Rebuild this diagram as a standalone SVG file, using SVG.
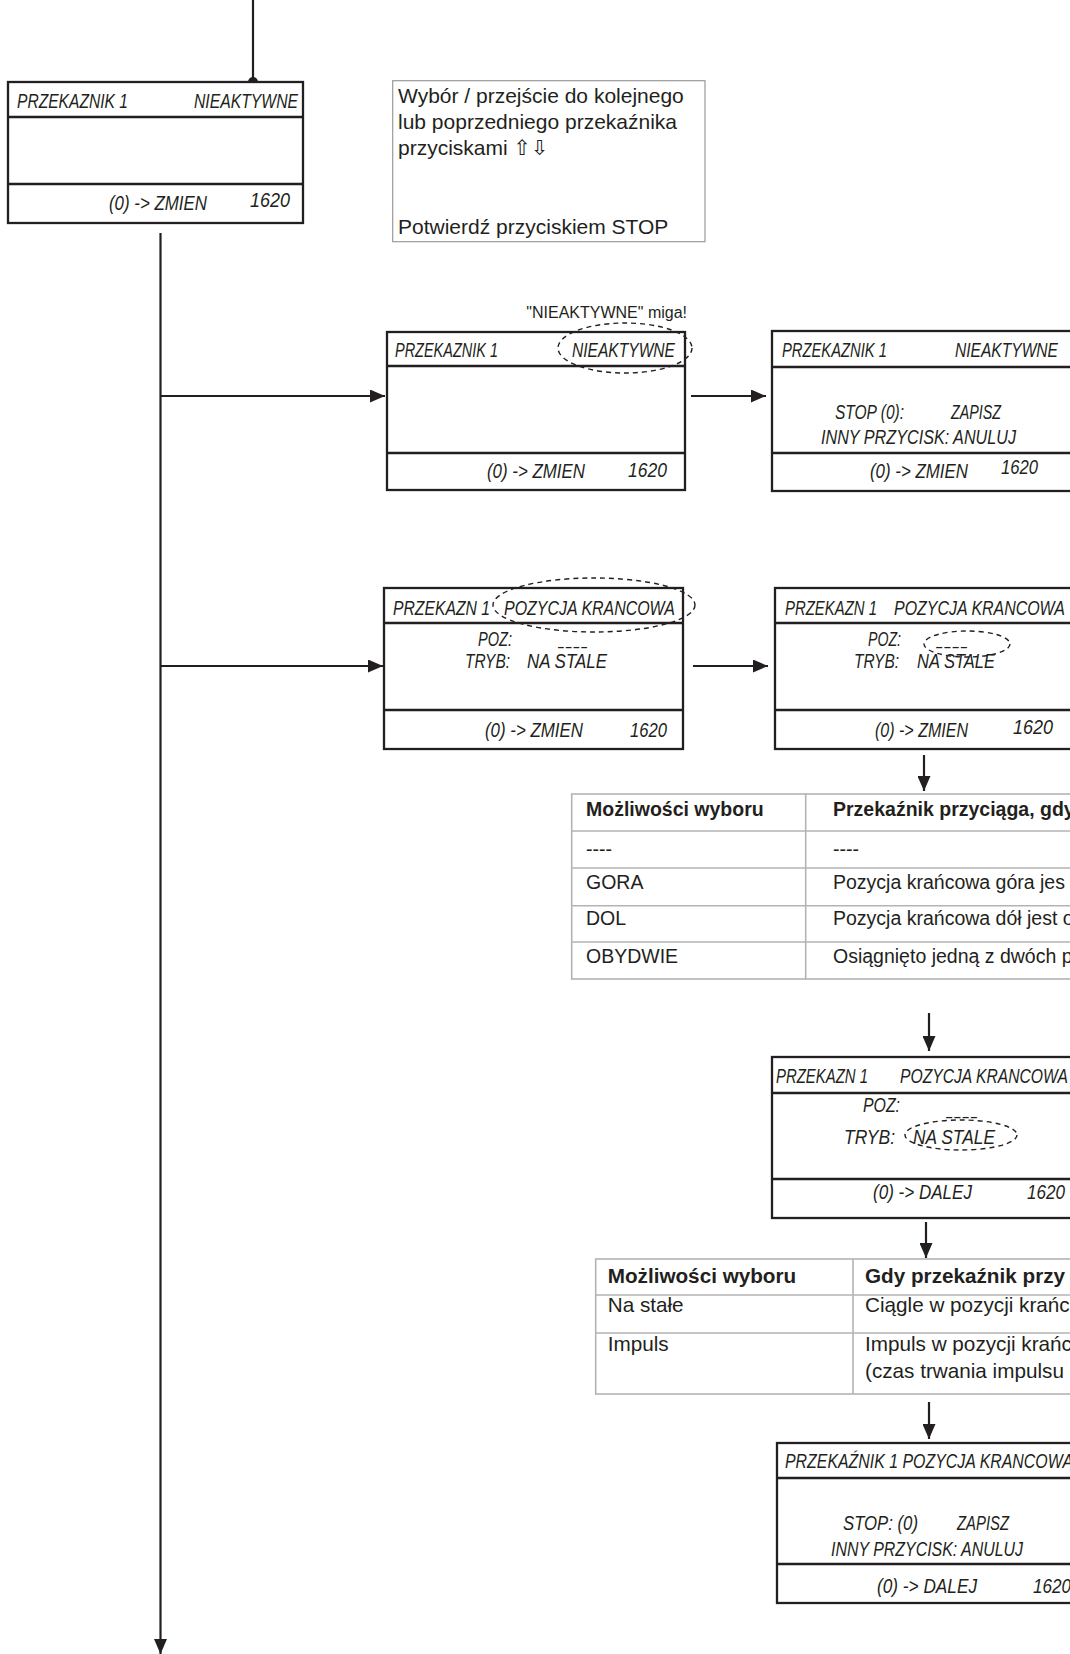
<svg xmlns="http://www.w3.org/2000/svg" width="1070" height="1654" viewBox="0 0 1070 1654">
<style>
.bx{fill:#fff;stroke:#231f20;stroke-width:2.3}
.dv{stroke:#231f20;stroke-width:2.3}
.lcd{font-family:"Liberation Sans Narrow","Liberation Sans",sans-serif;font-style:italic;font-size:21px;fill:#231f20}
.dash{font-family:"Liberation Sans",sans-serif;font-size:16px;fill:#231f20}
.el{fill:none;stroke:#231f20;stroke-width:1.4;stroke-dasharray:5 4}
.cn{stroke:#231f20;stroke-width:2.2;fill:none}
.tb{fill:#fff;stroke:#b3b3b3;stroke-width:1.6}
.tl{stroke:#b3b3b3;stroke-width:1.6}
.t1{font-family:"Liberation Sans",Arial,sans-serif;font-size:19.5px;fill:#231f20}
.t2{font-family:"Liberation Sans",Arial,sans-serif;font-size:20.7px;fill:#231f20}
.b{font-weight:bold}
.note{font-family:"Liberation Sans",Arial,"DejaVu Sans",sans-serif;font-size:21px;fill:#231f20}
</style>
<defs>
<marker id="ah" markerUnits="userSpaceOnUse" markerWidth="16" markerHeight="13" refX="15" refY="6.5" orient="auto">
<path d="M0,0 L15,6.5 L0,13 z" fill="#231f20"/>
</marker>
</defs>
<rect width="1070" height="1654" fill="#fff"/>

<g id="connectors">
<line class="cn" x1="253" y1="0" x2="253" y2="82"/>
<circle cx="253" cy="82" r="5" fill="#231f20"/>
<line class="cn" x1="160.5" y1="233" x2="160.5" y2="1654" marker-end="url(#ah)"/>
<line class="cn" x1="160.5" y1="396" x2="385" y2="396" marker-end="url(#ah)"/>
<line class="cn" x1="160.5" y1="666" x2="383" y2="666" marker-end="url(#ah)"/>
<line class="cn" x1="691" y1="396" x2="766" y2="396" marker-end="url(#ah)"/>
<line class="cn" x1="693" y1="666" x2="768" y2="666" marker-end="url(#ah)"/>
<line class="cn" x1="924" y1="755" x2="924" y2="791" marker-end="url(#ah)"/>
<line class="cn" x1="929" y1="1013" x2="929" y2="1051" marker-end="url(#ah)"/>
<line class="cn" x1="926" y1="1222" x2="926" y2="1258" marker-end="url(#ah)"/>
<line class="cn" x1="929" y1="1402" x2="929" y2="1439" marker-end="url(#ah)"/>
</g>

<g id="n1">
<rect class="bx" x="8" y="82" width="295" height="141"/>
<line class="dv" x1="8" y1="117" x2="303" y2="117"/>
<line class="dv" x1="8" y1="184" x2="303" y2="184"/>
<text class="lcd" x="17" y="108" textLength="111" lengthAdjust="spacingAndGlyphs">PRZEKAZNIK 1</text>
<text class="lcd" x="194" y="108" textLength="104" lengthAdjust="spacingAndGlyphs">NIEAKTYWNE</text>
<text class="lcd" x="109" y="210" textLength="98" lengthAdjust="spacingAndGlyphs">(0) -&gt; ZMIEN</text>
<text class="lcd" x="250" y="207" textLength="40" lengthAdjust="spacingAndGlyphs">1620</text>
</g>

<g id="note">
<rect x="392.7" y="80.7" width="312.3" height="161" fill="#fff" stroke="#9a9a9a" stroke-width="1.2"/>
<text class="note" x="398" y="103">Wybór / przejście do kolejnego</text>
<text class="note" x="398" y="129">lub poprzedniego przekaźnika</text>
<text class="note" x="398" y="154.5">przyciskami ⇧⇩</text>
<text class="note" x="398" y="234">Potwierdź przyciskiem STOP</text>
</g>

<g id="n2">
<text x="687" y="318" text-anchor="end" font-family="Liberation Sans, Arial, sans-serif" font-size="16" fill="#231f20">"NIEAKTYWNE" miga!</text>
<rect class="bx" x="387" y="332" width="298" height="158"/>
<line class="dv" x1="387" y1="366" x2="685" y2="366"/>
<line class="dv" x1="387" y1="453" x2="685" y2="453"/>
<text class="lcd" x="395" y="357" textLength="103" lengthAdjust="spacingAndGlyphs">PRZEKAZNIK 1</text>
<text class="lcd" x="572" y="357" textLength="103" lengthAdjust="spacingAndGlyphs">NIEAKTYWNE</text>
<ellipse class="el" cx="625" cy="348" rx="67" ry="25"/>
<text class="lcd" x="487" y="478" textLength="98" lengthAdjust="spacingAndGlyphs">(0) -&gt; ZMIEN</text>
<text class="lcd" x="628" y="477" textLength="39" lengthAdjust="spacingAndGlyphs">1620</text>
</g>

<g id="n3">
<rect class="bx" x="772" y="331" width="300" height="160"/>
<line class="dv" x1="772" y1="367" x2="1072" y2="367"/>
<line class="dv" x1="772" y1="453" x2="1072" y2="453"/>
<text class="lcd" x="782" y="357" textLength="105" lengthAdjust="spacingAndGlyphs">PRZEKAZNIK 1</text>
<text class="lcd" x="955" y="357" textLength="103" lengthAdjust="spacingAndGlyphs">NIEAKTYWNE</text>
<text class="lcd" x="835" y="419" textLength="69" lengthAdjust="spacingAndGlyphs">STOP (0):</text>
<text class="lcd" x="951" y="419" textLength="50" lengthAdjust="spacingAndGlyphs">ZAPISZ</text>
<text class="lcd" x="821" y="444" textLength="195" lengthAdjust="spacingAndGlyphs">INNY PRZYCISK: ANULUJ</text>
<text class="lcd" x="870" y="478" textLength="98" lengthAdjust="spacingAndGlyphs">(0) -&gt; ZMIEN</text>
<text class="lcd" x="1001" y="474" textLength="37" lengthAdjust="spacingAndGlyphs">1620</text>
</g>

<g id="n4">
<rect class="bx" x="384" y="588" width="299" height="161"/>
<line class="dv" x1="384" y1="623" x2="683" y2="623"/>
<line class="dv" x1="384" y1="710" x2="683" y2="710"/>
<text class="lcd" x="393" y="615" textLength="97" lengthAdjust="spacingAndGlyphs">PRZEKAZN 1</text>
<text class="lcd" x="504" y="615" textLength="171" lengthAdjust="spacingAndGlyphs">POZYCJA KRANCOWA</text>
<ellipse class="el" cx="594" cy="605" rx="101" ry="27"/>
<text class="lcd" x="478" y="646" textLength="34" lengthAdjust="spacingAndGlyphs">POZ:</text>
<text class="dash" x="557" y="652" textLength="31" lengthAdjust="spacingAndGlyphs">----</text>
<text class="lcd" x="465" y="668" textLength="45" lengthAdjust="spacingAndGlyphs">TRYB:</text>
<text class="lcd" x="527" y="668" textLength="80" lengthAdjust="spacingAndGlyphs">NA STALE</text>
<text class="lcd" x="485" y="737" textLength="98" lengthAdjust="spacingAndGlyphs">(0) -&gt; ZMIEN</text>
<text class="lcd" x="630" y="737" textLength="37" lengthAdjust="spacingAndGlyphs">1620</text>
</g>

<g id="n5">
<rect class="bx" x="775" y="588" width="298" height="161"/>
<line class="dv" x1="775" y1="623" x2="1073" y2="623"/>
<line class="dv" x1="775" y1="710" x2="1073" y2="710"/>
<text class="lcd" x="785" y="615" textLength="92" lengthAdjust="spacingAndGlyphs">PRZEKAZN 1</text>
<text class="lcd" x="894" y="615" textLength="171" lengthAdjust="spacingAndGlyphs">POZYCJA KRANCOWA</text>
<text class="lcd" x="868" y="646" textLength="33" lengthAdjust="spacingAndGlyphs">POZ:</text>
<text class="dash" x="935" y="652" textLength="33" lengthAdjust="spacingAndGlyphs">----</text>
<ellipse class="el" cx="967" cy="644" rx="43" ry="13"/>
<text class="lcd" x="854" y="668" textLength="45" lengthAdjust="spacingAndGlyphs">TRYB:</text>
<text class="lcd" x="917" y="668" textLength="78" lengthAdjust="spacingAndGlyphs">NA STALE</text>
<text class="lcd" x="875" y="737" textLength="93" lengthAdjust="spacingAndGlyphs">(0) -&gt; ZMIEN</text>
<text class="lcd" x="1013" y="734" textLength="40" lengthAdjust="spacingAndGlyphs">1620</text>
</g>

<g id="table1">
<rect class="tb" x="571.7" y="794" width="520" height="185"/>
<line class="tl" x1="805.7" y1="794" x2="805.7" y2="979"/>
<line class="tl" x1="571.7" y1="831" x2="1075" y2="831"/>
<line class="tl" x1="571.7" y1="868" x2="1075" y2="868"/>
<line class="tl" x1="571.7" y1="905.7" x2="1075" y2="905.7"/>
<line class="tl" x1="571.7" y1="942" x2="1075" y2="942"/>
<text class="t1 b" x="586" y="816">Możliwości wyboru</text>
<text class="t1 b" x="833" y="816">Przekaźnik przyciąga, gdy</text>
<text class="t1" x="586" y="856">----</text>
<text class="t1" x="833" y="856">----</text>
<text class="t1" x="586" y="888.5">GORA</text>
<text class="t1" x="833" y="888.5">Pozycja krańcowa góra jes</text>
<text class="t1" x="586" y="925">DOL</text>
<text class="t1" x="833" y="925">Pozycja krańcowa dół jest o</text>
<text class="t1" x="586" y="962.5">OBYDWIE</text>
<text class="t1" x="833" y="962.5">Osiągnięto jedną z dwóch p</text>
</g>

<g id="n6">
<rect class="bx" x="772" y="1057" width="300" height="161"/>
<line class="dv" x1="772" y1="1093" x2="1072" y2="1093"/>
<line class="dv" x1="772" y1="1179" x2="1072" y2="1179"/>
<text class="lcd" x="776" y="1083" textLength="92" lengthAdjust="spacingAndGlyphs">PRZEKAZN 1</text>
<text class="lcd" x="900" y="1083" textLength="168" lengthAdjust="spacingAndGlyphs">POZYCJA KRANCOWA</text>
<text class="lcd" x="863" y="1112" textLength="37" lengthAdjust="spacingAndGlyphs">POZ:</text>
<text class="dash" x="945" y="1122" textLength="33" lengthAdjust="spacingAndGlyphs">----</text>
<ellipse class="el" cx="961" cy="1135" rx="56" ry="15"/>
<text class="lcd" x="844" y="1144" textLength="51" lengthAdjust="spacingAndGlyphs">TRYB:</text>
<text class="lcd" x="913" y="1144" textLength="82" lengthAdjust="spacingAndGlyphs">NA STALE</text>
<text class="lcd" x="873" y="1199" textLength="99" lengthAdjust="spacingAndGlyphs">(0) -&gt; DALEJ</text>
<text class="lcd" x="1027" y="1199" textLength="38" lengthAdjust="spacingAndGlyphs">1620</text>
</g>

<g id="table2">
<rect class="tb" x="595.7" y="1259" width="500" height="135"/>
<line class="tl" x1="853" y1="1259" x2="853" y2="1394"/>
<line class="tl" x1="595.7" y1="1295" x2="1075" y2="1295"/>
<line class="tl" x1="595.7" y1="1333" x2="1075" y2="1333"/>
<text class="t2 b" x="607.7" y="1283">Możliwości wyboru</text>
<text class="t2 b" x="865" y="1283">Gdy przekaźnik przy</text>
<text class="t2" x="607.7" y="1312">Na stałe</text>
<text class="t2" x="865" y="1312">Ciągle w pozycji krańc</text>
<text class="t2" x="607.7" y="1351">Impuls</text>
<text class="t2" x="865" y="1351">Impuls w pozycji krańc</text>
<text class="t2" x="865" y="1378">(czas trwania impulsu</text>
</g>

<g id="n7">
<rect class="bx" x="777" y="1443" width="298" height="160"/>
<line class="dv" x1="777" y1="1478" x2="1075" y2="1478"/>
<line class="dv" x1="777" y1="1564" x2="1075" y2="1564"/>
<text class="lcd" x="785" y="1468" textLength="288" lengthAdjust="spacingAndGlyphs">PRZEKAŹNIK 1 POZYCJA KRANCOWA</text>
<text class="lcd" x="843" y="1530" textLength="75" lengthAdjust="spacingAndGlyphs">STOP: (0)</text>
<text class="lcd" x="957" y="1530" textLength="52" lengthAdjust="spacingAndGlyphs">ZAPISZ</text>
<text class="lcd" x="831" y="1556" textLength="192" lengthAdjust="spacingAndGlyphs">INNY PRZYCISK: ANULUJ</text>
<text class="lcd" x="877" y="1593" textLength="100" lengthAdjust="spacingAndGlyphs">(0) -&gt; DALEJ</text>
<text class="lcd" x="1033" y="1593" textLength="38" lengthAdjust="spacingAndGlyphs">1620</text>
</g>
</svg>
